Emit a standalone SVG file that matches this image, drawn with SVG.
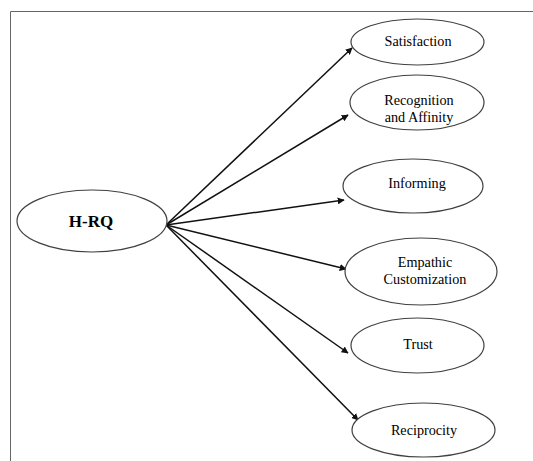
<svg xmlns="http://www.w3.org/2000/svg" width="533" height="461" viewBox="0 0 533 461">
<style>
.n ellipse{fill:#fff;stroke:#404040;stroke-width:1.2}
.n text{font-family:'Liberation Serif','Times New Roman','DejaVu Serif',serif;font-size:14.2px;fill:#000;text-anchor:middle}
.c line{stroke:#111;stroke-width:1.5;marker-end:url(#ah)}
</style>
<defs>
<marker id="ah" viewBox="0 0 10 10" refX="9" refY="5" markerWidth="7" markerHeight="7" markerUnits="userSpaceOnUse" orient="auto">
<path d="M0,0 L10,5 L0,10 z" fill="#111"/>
</marker>
</defs>
<rect width="533" height="461" fill="#fff"/>
<path d="M10.5,461 V11.5 H533" fill="none" stroke="#666" stroke-width="1"/>
<g class="c">
<line x1="166" y1="225" x2="352" y2="48"/>
<line x1="166" y1="225" x2="348" y2="115"/>
<line x1="166" y1="225" x2="344" y2="200"/>
<line x1="166" y1="225" x2="346" y2="269"/>
<line x1="166" y1="225" x2="348" y2="353"/>
<line x1="166" y1="225" x2="358" y2="420"/>
</g>
<g id="hrq" class="n"><ellipse cx="92" cy="221" rx="75" ry="31"/><text x="91" y="227" style="font-size:17px;font-weight:bold">H-RQ</text></g>
<g id="satisfaction" class="n"><ellipse cx="417.5" cy="42" rx="66.5" ry="23"/><text x="418" y="46">Satisfaction</text></g>
<g id="recognition" class="n"><ellipse cx="417" cy="102.5" rx="67" ry="27.5"/><text x="419" y="105">Recognition</text><text x="419" y="122">and Affinity</text></g>
<g id="informing" class="n"><ellipse cx="413" cy="186" rx="70" ry="27"/><text x="417" y="188">Informing</text></g>
<g id="empathic" class="n"><ellipse cx="421" cy="271.5" rx="76" ry="33.5"/><text x="425" y="267">Empathic</text><text x="425" y="284">Customization</text></g>
<g id="trust" class="n"><ellipse cx="417.5" cy="345.5" rx="66.5" ry="27.5"/><text x="418" y="349">Trust</text></g>
<g id="reciprocity" class="n"><ellipse cx="423.5" cy="430" rx="71.5" ry="27"/><text x="424" y="435">Reciprocity</text></g>
</svg>
